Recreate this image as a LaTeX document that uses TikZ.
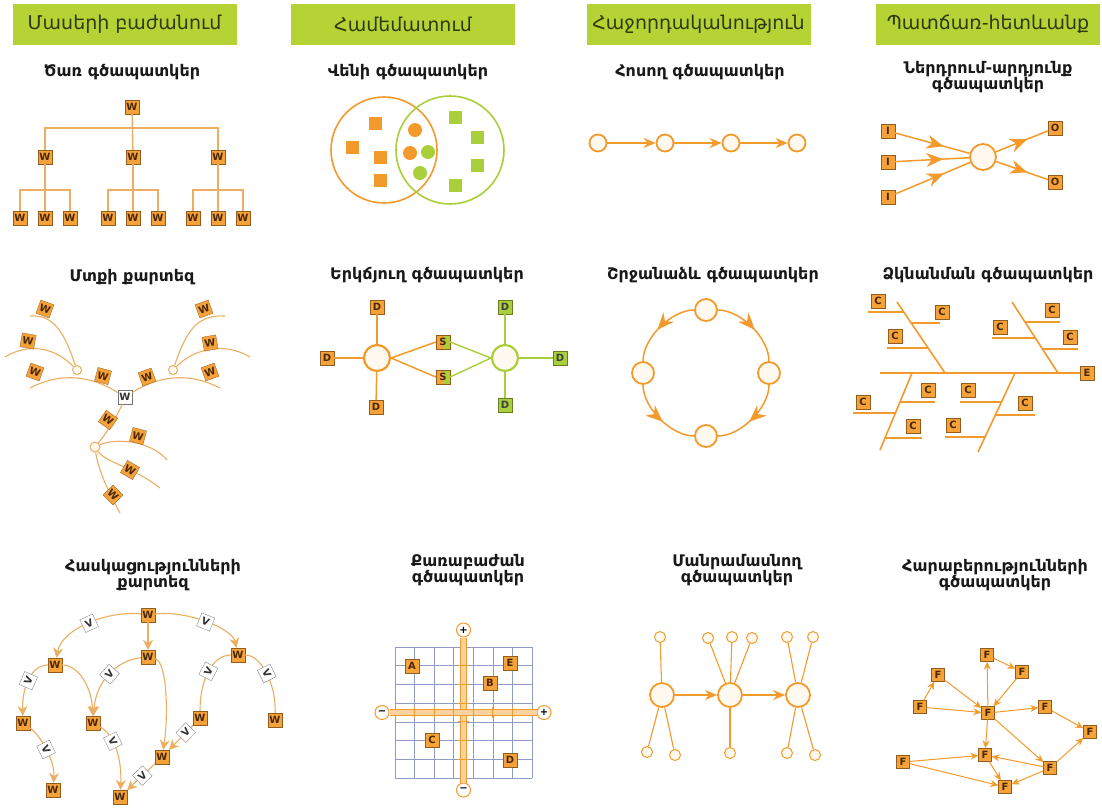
\documentclass[tikz,border=0pt]{standalone}
\usepackage{fontspec}
\setmainfont{DejaVu Sans}
\usetikzlibrary{positioning, arrows.meta, calc, decorations.markings}

\definecolor{hdrgreen}{HTML}{B5D334}
\definecolor{hdrtext}{HTML}{2E3A12}
\definecolor{orng}{HTML}{F39A2C}
\definecolor{tanline}{HTML}{EBAE62}
\definecolor{lgreen}{HTML}{A9CF3A}
\definecolor{tilefill}{HTML}{F5A23A}
\definecolor{tiletext}{HTML}{4A2806}
\definecolor{gridblue}{HTML}{8E9BC6}
\definecolor{cream}{HTML}{FFF9EF}

\tikzset{
  hdr/.style={fill=hdrgreen, minimum width=224pt, minimum height=41pt, inner sep=0pt,
    text=hdrtext, font=\fontsize{19}{19}\selectfont},
  ttl/.style={align=center, text=black!90, font=\bfseries\fontsize{16}{15}\selectfont},
  tile/.style={rectangle, fill=tilefill, draw=orng!60!black, line width=0.3pt,
    minimum size=14pt, inner sep=0pt, text=tiletext, font=\bfseries\fontsize{10}{10}\selectfont},
  vtile/.style={tile, fill=white, draw=black!55, text=black!80},
  gtile/.style={tile, fill=lgreen, draw=lgreen!60!black, text=black!75},
  stile/.style={tile, path picture={\fill[lgreen] (path picture bounding box.north)
    rectangle (path picture bounding box.south east);}},
  sq/.style={rectangle, minimum size=13pt, inner sep=0pt},
  blob/.style={circle, minimum size=14pt, inner sep=0pt},
  bub/.style={circle, draw=orng, line width=1.8pt, fill=cream, minimum size=17pt, inner sep=0pt},
  pip/.style={circle, draw=orng, line width=1pt, fill=cream, minimum size=11pt, inner sep=0pt},
  pm/.style={circle, draw=orng, line width=1pt, fill=white, minimum size=14pt, inner sep=0pt,
    font=\bfseries\fontsize{10}{10}\selectfont},
  lnk/.style={orng, line width=1.5pt},
  glnk/.style={lgreen, line width=1.4pt},
  twig/.style={tanline, line width=1.1pt},
  bone/.style={orng, line width=1.6pt},
  qaxis/.style={draw=orng, line width=1.2pt, double=orng!45, double distance=5pt},
  arr/.style={lnk, -{Stealth[length=12pt, width=10pt]}},
  carr/.style={twig, -{Stealth[length=10pt, width=10pt]}},
  farr/.style={orng, line width=1pt, -{Stealth[length=8pt, width=7pt]}},
  midarr/.style={lnk, postaction={decorate}, decoration={markings,
    mark=at position #1 with {\arrow{Stealth[length=17pt, width=14pt]}}}},
}

\begin{document}
\begin{tikzpicture}[x=1pt, y=-1pt]
\useasboundingbox (0,0) rectangle (1102,807);
\fill[white] (0,0) rectangle (1102,807);

% column headers
\node[hdr] (h1) at (124.5,24.5) {Մասերի բաժանում};
\node[hdr] (h2) at (403,24.5) {Համեմատում};
\node[hdr] (h3) at (698.5,24.5) {Հաջորդականություն};
\node[hdr] (h4) at (988,24.5) {Պատճառ-հետևանք};

% titles
\node[ttl] (ttree) at (122,72) {Ծառ գծապատկեր};
\node[ttl] (tvenn) at (408,72) {Վենի գծապատկեր};
\node[ttl] (tflow) at (700,72) {Հոսող գծապատկեր};
\node[ttl] (tio) at (988,77) {Ներդրում-արդյունք\\գծապատկեր};
\node[ttl] (tmind) at (132,277) {Մտքի քարտեզ};
\node[ttl] (tdbl) at (427,275) {Երկճյուղ գծապատկեր};
\node[ttl] (tcyc) at (713,275) {Շրջանաձև գծապատկեր};
\node[ttl] (tfish) at (988,275) {Ձկնանման գծապատկեր};
\node[ttl] (tcon) at (153,575) {Հասկացությունների\\քարտեզ};
\node[ttl] (tquad) at (468,570) {Քառաբաժան\\գծապատկեր};
\node[ttl] (tdet) at (737,570) {Մանրամասնող\\գծապատկեր};
\node[ttl] (trel) at (995,575) {Հարաբերությունների\\գծապատկեր};

% tree
\node[tile] (w0) at (132,107) {W};
\foreach \i/\x in {1/45,2/133,3/218}{
  \node[tile] (w\i) at (\x,157) {W};
  \foreach \j/\d in {1/-25,2/0,3/25}
    \node[tile] (w\i\j) at (\x+\d,218) {W};
  \coordinate (b\i) at (\x,190);
  \draw[twig, line width=1.4pt] (w\i) -- (w\i2);
  \draw[twig, line width=1.4pt] (w\i1) |- (b\i) -| (w\i3);
}
\coordinate (b0) at (132,128);
\draw[twig, line width=1.4pt] (w0) -- (w2);
\draw[twig, line width=1.4pt] (w1) |- (b0) -| (w3);

% venn
\node[circle, draw=orng, line width=1.6pt, minimum size=106pt] (vA) at (384,150) {};
\node[circle, draw=lgreen, line width=1.6pt, minimum size=108pt] (vB) at (450,150) {};
\foreach \x/\y [count=\n] in {375/123,352/147,380/157,380/180}
  \node[sq, fill=orng] (va\n) at (\x,\y) {};
\foreach \x/\y [count=\n] in {455/117,477/137,477/165,455/185}
  \node[sq, fill=lgreen] (vb\n) at (\x,\y) {};
\node[blob, fill=orng] (vo1) at (415,130) {};
\node[blob, fill=orng] (vo2) at (410,153) {};
\node[blob, fill=lgreen] (vg1) at (428,152) {};
\node[blob, fill=lgreen] (vg2) at (420,173) {};

% flow
\foreach \x [count=\n] in {598,665,731,797}
  \node[bub] (f\n) at (\x,143) {};
\foreach \a/\b in {1/2,2/3,3/4}
  \draw[arr] (f\a) -- (f\b);

% input - output
\foreach \y [count=\n] in {131,162,197}
  \node[tile] (in\n) at (888,\y) {I};
\node[bub, minimum size=26pt] (io) at (983,157) {};
\node[tile] (out1) at (1055,128) {O};
\node[tile] (out2) at (1055,182) {O};
\foreach \n in {1,2,3}
  \draw[midarr=0.65] (in\n) -- (io);
\foreach \n in {1,2}
  \draw[midarr=0.6] (io) -- (out\n);

% mind map
\node[vtile] (mc) at (125,397) {W};
\node[pip, draw=tanline, minimum size=9pt] (ml) at (77,370) {};
\node[pip, draw=tanline, minimum size=9pt] (mr) at (173,370) {};
\node[pip, draw=tanline, minimum size=10pt] (mb) at (95,447) {};
\draw[twig] (30,388) .. controls (55,375) and (85,372) .. (mc);
\draw[twig] (mc) .. controls (165,372) and (195,375) .. (220,388);
\draw[twig] (mc) .. controls (118,415) and (105,435) .. (mb);
\draw[twig] (ml) .. controls (65,335) and (55,314) .. (30,316);
\draw[twig] (ml) .. controls (55,348) and (30,342) .. (5,357);
\draw[twig] (mr) .. controls (185,335) and (195,314) .. (225,316);
\draw[twig] (mr) .. controls (195,348) and (225,342) .. (250,357);
\draw[twig] (mb) .. controls (115,438) and (150,440) .. (167,460);
\draw[twig] (mb) .. controls (105,462) and (135,468) .. (160,488);
\draw[twig] (mb) .. controls (98,470) and (110,495) .. (120,513);
\foreach \x/\y/\r [count=\n] in {45/309/-20, 28/341/-10, 35/372/-20, 103/376/-15,
    147/377/20, 204/309/20, 210/343/10, 210/372/20,
    108/420/-35, 138/436/-15, 130/470/-30, 113/495/-45}
  \node[tile, rotate=\r] (mw\n) at (\x,\y) {W};

% double bubble
\node[bub, line width=2.2pt, minimum size=26pt] (dl) at (377,358) {};
\node[bub, line width=2.2pt, draw=lgreen, minimum size=26pt] (dr) at (505,358) {};
\node[tile] (dl1) at (377,307) {D};
\node[tile] (dl2) at (327,358) {D};
\node[tile] (dl3) at (376,407) {D};
\node[gtile] (dr1) at (505,307) {D};
\node[gtile] (dr2) at (560,358) {D};
\node[gtile] (dr3) at (505,405) {D};
\node[stile] (s1) at (443,342) {S};
\node[stile] (s2) at (443,377) {S};
\foreach \n in {1,2,3}{
  \draw[lnk] (dl) -- (dl\n);
  \draw[glnk] (dr) -- (dr\n);
}
\foreach \n in {1,2}{
  \draw[lnk] (dl.east) -- (s\n.west);
  \draw[glnk] (s\n.east) -- (dr.west);
}

% cycle
\node[bub, minimum size=22pt] (c1) at (706,310) {};
\node[bub, minimum size=22pt] (c2) at (769,373) {};
\node[bub, minimum size=22pt] (c3) at (706,436) {};
\node[bub, minimum size=22pt] (c4) at (643,373) {};
\draw[midarr=0.55] (c1) .. controls (740.8,310) and (769,338.2) .. (c2);
\draw[midarr=0.55] (c2) .. controls (769,407.8) and (740.8,436) .. (c3);
\draw[midarr=0.55] (c1) .. controls (671.2,310) and (643,338.2) .. (c4);
\draw[midarr=0.55] (c4) .. controls (643,407.8) and (671.2,436) .. (c3);

% fishbone
\node[tile] (fe) at (1087,373) {E};
\coordinate (sp) at (880,373);
\draw[bone] (sp) -- (fe);
\draw[bone] (897,302) -- (945,373);
\draw[bone] (1012,302) -- (1058,373);
\draw[bone] (912,373) -- (880,450);
\draw[bone] (1015,373) -- (978,452);
\foreach \xa/\xb/\y/\cx/\cy [count=\n] in {
    868/904/312/878/301, 911/940/323/942/312, 887/928/348/895/336,
    1025/1060/322/1052/310, 992/1035/338/1000/327, 1042/1078/349/1070/337,
    900/935/402/928/390, 853/895/413/863/402, 885/922/438/913/426,
    960/1001/402/968/390, 995/1035/415/1025/403, 945/985/437/953/425}{
  \draw[bone] (\xa,\y) -- (\xb,\y);
  \node[tile] (fc\n) at (\cx,\cy) {C};
}

% concept map
\node[tile] (k1) at (148,615) {W};
\node[tile] (k2) at (55,665) {W};
\node[tile] (k3) at (148,657) {W};
\node[tile] (k4) at (238,655) {W};
\node[tile] (k5) at (23,723) {W};
\node[tile] (k6) at (93,723) {W};
\node[tile] (k7) at (200,718) {W};
\node[tile] (k8) at (275,720) {W};
\node[tile] (k9) at (162,757) {W};
\node[tile] (k10) at (53,790) {W};
\node[tile] (k11) at (120,797) {W};
\draw[carr] (k1) -- (k3);
\draw[carr] (k1) .. controls (110,610) and (62,628) .. node[vtile, sloped] (v1) {V} (k2);
\draw[carr] (k1) .. controls (186,610) and (232,628) .. node[vtile, sloped] (v2) {V} (k4);
\draw[carr] (k2) .. controls (30,665) and (22,690) .. node[vtile, sloped] (v3) {V} (k5);
\draw[carr] (k2) .. controls (80,665) and (92,690) .. (k6);
\draw[carr] (k3) .. controls (118,660) and (96,680) .. node[vtile, sloped] (v4) {V} (k6);
\draw[carr] (k3) .. controls (168,662) and (168,720) .. (k9);
\draw[twig] (k4) .. controls (212,655) and (200,680) .. node[vtile, sloped] (v5) {V} (k7);
\draw[twig] (k4) .. controls (262,655) and (276,685) .. node[vtile, sloped] (v6) {V} (k8);
\draw[carr] (k7) -- node[vtile, sloped, pos=0.3] (v7) {V} (k9);
\draw[carr] (k5) .. controls (40,735) and (55,760) .. node[vtile, sloped] (v8) {V} (k10);
\draw[carr] (k6) .. controls (115,735) and (122,760) .. node[vtile, sloped, pos=0.35] (v9) {V} (k11);
\draw[carr] (k9) -- node[vtile, sloped, pos=0.45] (v10) {V} (k11);

% quadrant
\foreach \i in {0,...,7}{
  \draw[gridblue, line width=0.6pt] (395+\i*19.57,647) -- (395+\i*19.57,778);
  \draw[gridblue, line width=0.6pt] (395,647+\i*18.71) -- (532,647+\i*18.71);
}
\node[pm] (qt) at (463.5,630) {+};
\node[pm] (qb) at (463.5,790) {−};
\node[pm] (ql) at (382,712.5) {−};
\node[pm] (qr) at (544,712.5) {+};
\draw[qaxis] (qt) -- (qb);
\draw[qaxis] (ql) -- (qr);
\foreach \i in {1,...,6}{
  \draw[orng, line width=1pt] (395+\i*19.57,707) -- ++(0,11);
  \draw[orng, line width=1pt] (458,647+\i*18.71) -- ++(11,0);
}
\node[tile] (qa) at (412,666) {A};
\node[tile] (qe) at (510,663) {E};
\node[tile] (qbb) at (490,683) {B};
\node[tile] (qc) at (432,740) {C};
\node[tile] (qd) at (510,760) {D};

% detail
\foreach \x [count=\n] in {662,730,798}
  \node[bub, minimum size=24pt] (m\n) at (\x,695) {};
\draw[arr] (m1) -- (m2);
\draw[arr] (m2) -- (m3);
\foreach \p/\x/\y [count=\n] in {1/660/637, 1/647/752, 1/675/755,
    2/708/638, 2/732/637, 2/752/638, 2/730/753,
    3/787/637, 3/813/637, 3/787/753, 3/815/755}{
  \node[pip] (sd\n) at (\x,\y) {};
  \draw[lnk, line width=1.1pt] (m\p) -- (sd\n);
}

% relations
\foreach \x/\y [count=\n] in {987/655, 1022/672, 938/675, 920/707, 988/713, 1045/707,
    1090/732, 985/755, 903/762, 1050/768, 1005/787}
  \node[tile, minimum size=13pt] (F\n) at (\x,\y) {F};
\foreach \a/\b in {5/1, 1/2, 2/5, 3/5, 4/3, 4/5, 5/6, 6/7, 10/7, 5/10, 5/8,
    9/8, 9/11, 10/8, 10/11, 8/11}
  \draw[farr] (F\a) -- (F\b);

\end{tikzpicture}
\end{document}
